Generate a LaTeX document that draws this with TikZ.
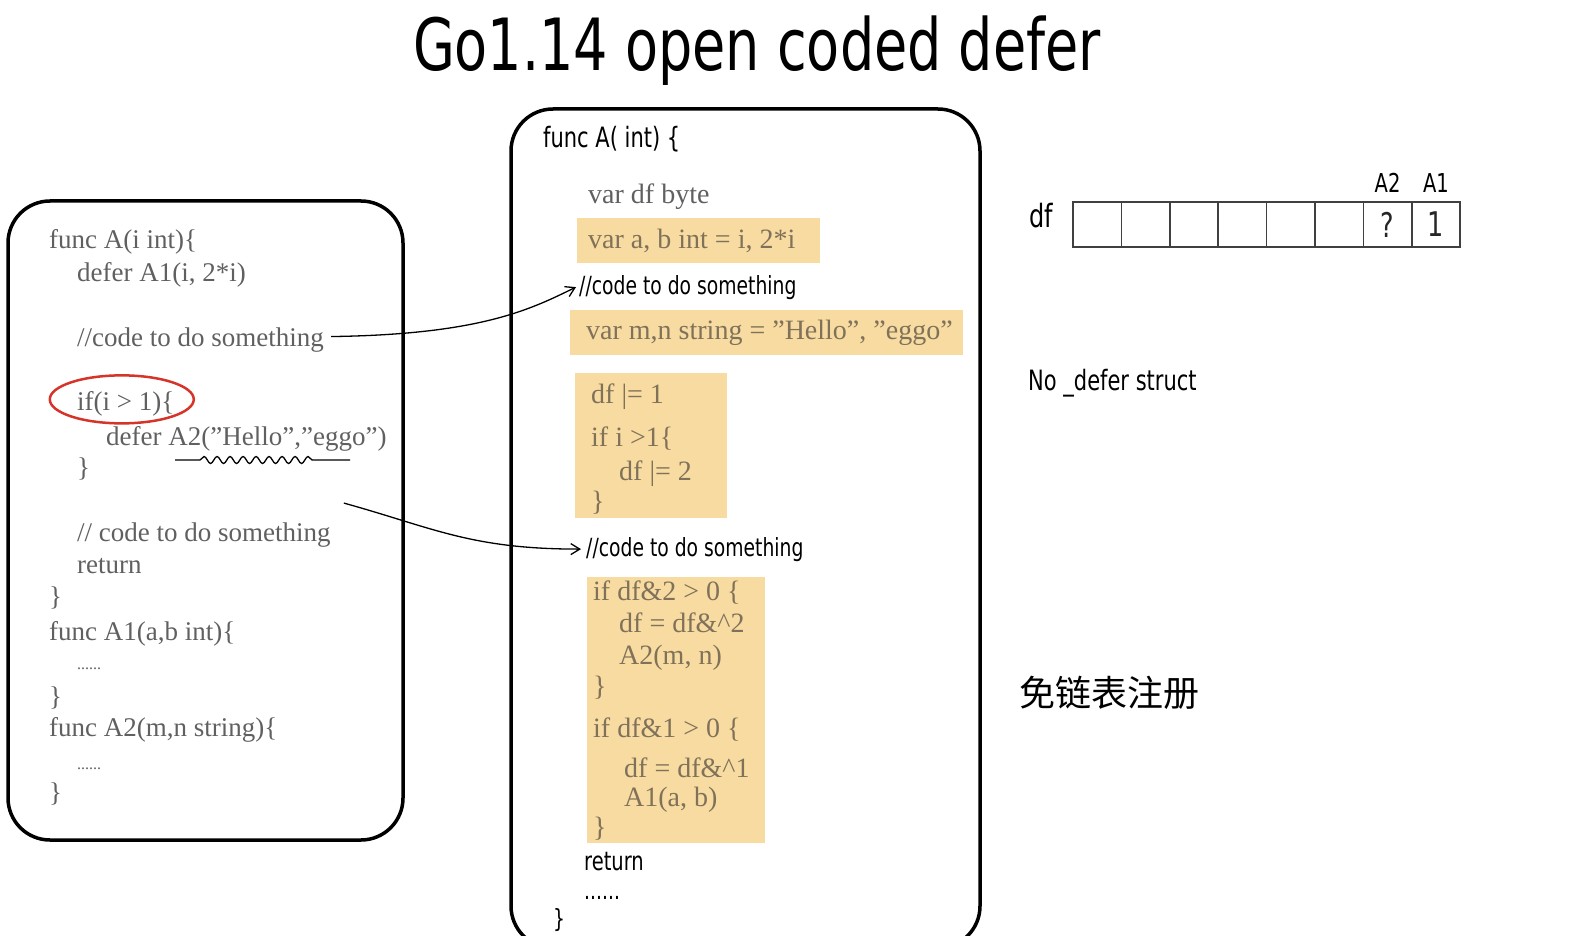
\documentclass[tikz,border=0pt]{standalone}
\usepackage{fontspec}
\setmainfont{Liberation Serif}
\newfontfamily\handfont[FakeStretch=0.75]{DejaVu Sans}
\newfontfamily\cjkfont{Noto Sans CJK SC}
\usetikzlibrary{positioning, arrows.meta, decorations.pathmorphing}
\definecolor{CodeGray}{RGB}{96,96,96}
\definecolor{HiText}{RGB}{128,114,90}
\definecolor{HiFill}{RGB}{247,219,160}
\definecolor{MarkRed}{RGB}{214,52,40}
\tikzset{
  code/.style={anchor=base west, inner sep=1pt, text=CodeGray, font=\fontsize{27}{32}\selectfont},
  hicode/.style={code, text=HiText, font=\fontsize{28}{33}\selectfont},
  hand/.style={anchor=base west, inner sep=1pt, font=\handfont\fontsize{25}{30}\selectfont},
  hibox/.style={fill=HiFill},
  frame/.style={draw=black, line width=3.5pt, rounded corners=42pt},
  cell/.style={draw=black!75, line width=1.5pt, minimum width=48.4pt, minimum height=45pt, inner sep=0pt},
  bitval/.style={inner sep=0pt, text=black!85, font=\handfont\fontsize{34}{38}\selectfont},
  bitname/.style={inner sep=1pt, font=\handfont\fontsize{26}{30}\selectfont},
  link/.style={line width=1.3pt, -{Straight Barb[length=9pt, width=11pt, line width=1.3pt]}}
}
\begin{document}
\begin{tikzpicture}[x=1pt, y=-1pt]
  \useasboundingbox (0,0) rectangle (1592,936);
  \clip (0,0) rectangle (1592,936);

  % title
  \node[anchor=base, font=\handfont\fontsize{72}{80}\selectfont] (title) at (757,71) {Go1.14 open coded defer};

  % left box: the source
  \draw[frame] (8,201) rectangle (403,840);
  \node[code] (lfunc) at (48,248) {func A(i int)\{};
  \node[code] (ldefer1) at (76,281) {defer A1(i, 2*i)};
  \node[code] (lcmt1) at (76,346) {//code to do something};
  \node[code] (lif) at (76,410) {if(i > 1)\{};
  \node[code] (ldefer2) at (105,445) {defer A2(”Hello”,”eggo”)};
  \node[code] (lclose1) at (76,476) {\}};
  \node[code] (lcmt2) at (76,541) {// code to do something};
  \node[code] (lret) at (76,573) {return};
  \node[code] (lclose2) at (48,605) {\}};
  \node[code] (lfuncA1) at (48,640) {func A1(a,b int)\{};
  \node[code, font=\fontsize{16}{20}\selectfont] (ldots1) at (76,669) {......};
  \node[code] (lclose3) at (48,705) {\}};
  \node[code] (lfuncA2) at (48,736) {func A2(m,n string)\{};
  \node[code, font=\fontsize{16}{20}\selectfont] (ldots2) at (76,769) {......};
  \node[code] (lclose4) at (48,801) {\}};

  % marks on the source
  \draw[MarkRed, line width=2.5pt] ([xshift=-4pt, yshift=4pt]lif.center) ellipse [x radius=72, y radius=24];
  \draw[line width=1.3pt, decorate, decoration={snake, amplitude=3.5pt, segment length=13pt, pre length=25pt, post length=37pt}] (175,460) -- (350,460);

  % middle box: what the compiler makes of it
  \draw[frame] (511,109) rectangle (980,948);
  \node[hand, font=\handfont\fontsize{28}{32}\selectfont] (mfunc) at (542,148) {func A( int) \{};
  \node[code, font=\fontsize{28}{33}\selectfont] (mvar) at (587,204) {var df byte};
  \fill[hibox] (577,218) rectangle (820,263);
  \node[hicode] (mab) at (587,248) {var a, b int = i, 2*i};
  \node[hand] (mcmt1) at (578,294) {//code to do something};
  \fill[hibox] (570,310) rectangle (963,355);
  \node[hicode] (mmn) at (585,339) {var m,n string = ”Hello”, ”eggo”};

  \fill[hibox] (575,373) rectangle (727,518);
  \node[hicode] (mset1) at (590,403) {df \textbar= 1};
  \node[hicode] (mif) at (590,446) {if i >1\{};
  \node[hicode] (mset2) at (618,480) {df \textbar= 2};
  \node[hicode] (mclose1) at (590,510) {\}};

  \node[hand] (mcmt2) at (585,556) {//code to do something};

  \fill[hibox] (587,577) rectangle (765,843);
  \node[hicode] (mchk2) at (592,600) {if df\&2 > 0 \{};
  \node[hicode] (mclr2) at (618,632) {df = df\&\textasciicircum 2};
  \node[hicode] (mcall2) at (618,664) {A2(m, n)};
  \node[hicode] (mclose2) at (592,695) {\}};
  \node[hicode] (mchk1) at (592,737) {if df\&1 > 0 \{};
  \node[hicode] (mclr1) at (623,777) {df = df\&\textasciicircum 1};
  \node[hicode] (mcall1) at (623,806) {A1(a, b)};
  \node[hicode] (mclose3) at (592,836) {\}};

  \node[hand, font=\handfont\fontsize{26}{30}\selectfont] (mret) at (583,870) {return};
  \node[hand] (mdots) at (583,899) {......};
  \node[hand] (mend) at (552,927) {\}};

  % arrows from source to generated code
  \draw[link] ([xshift=6pt, yshift=3pt]lcmt1.east) .. controls +(150,-2) and +(-45,22) .. ([xshift=-2pt]mcmt1.west);
  \draw[link] ([xshift=12pt, yshift=18pt]lcmt2.north east) .. controls +(90,25) and +(-110,0) .. ([xshift=-4pt]mcmt2.west);

  % df bits
  \node[hand, font=\handfont\fontsize{32}{36}\selectfont] (dflabel) at (1028,227) {df};
  \foreach \i in {0,...,7}
    \node[cell] (c\i) at (1097.2+48.4*\i, 224.5) {};
  \node[bitval] (bitA2) at (c6.center) {?};
  \node[bitval] (bitA1) at (c7.center) {1};
  \node[bitname, above=8pt of c6] (nameA2) {A2};
  \node[bitname, above=8pt of c7] (nameA1) {A1};

  % notes
  \node[hand, font=\handfont\fontsize{28}{32}\selectfont] (nodefer) at (1027,390) {No \_defer struct};
  \node[anchor=west, font=\cjkfont\fontsize{36}{40}\selectfont] (freelist) at (1016,693) {免链表注册};
\end{tikzpicture}
\end{document}
